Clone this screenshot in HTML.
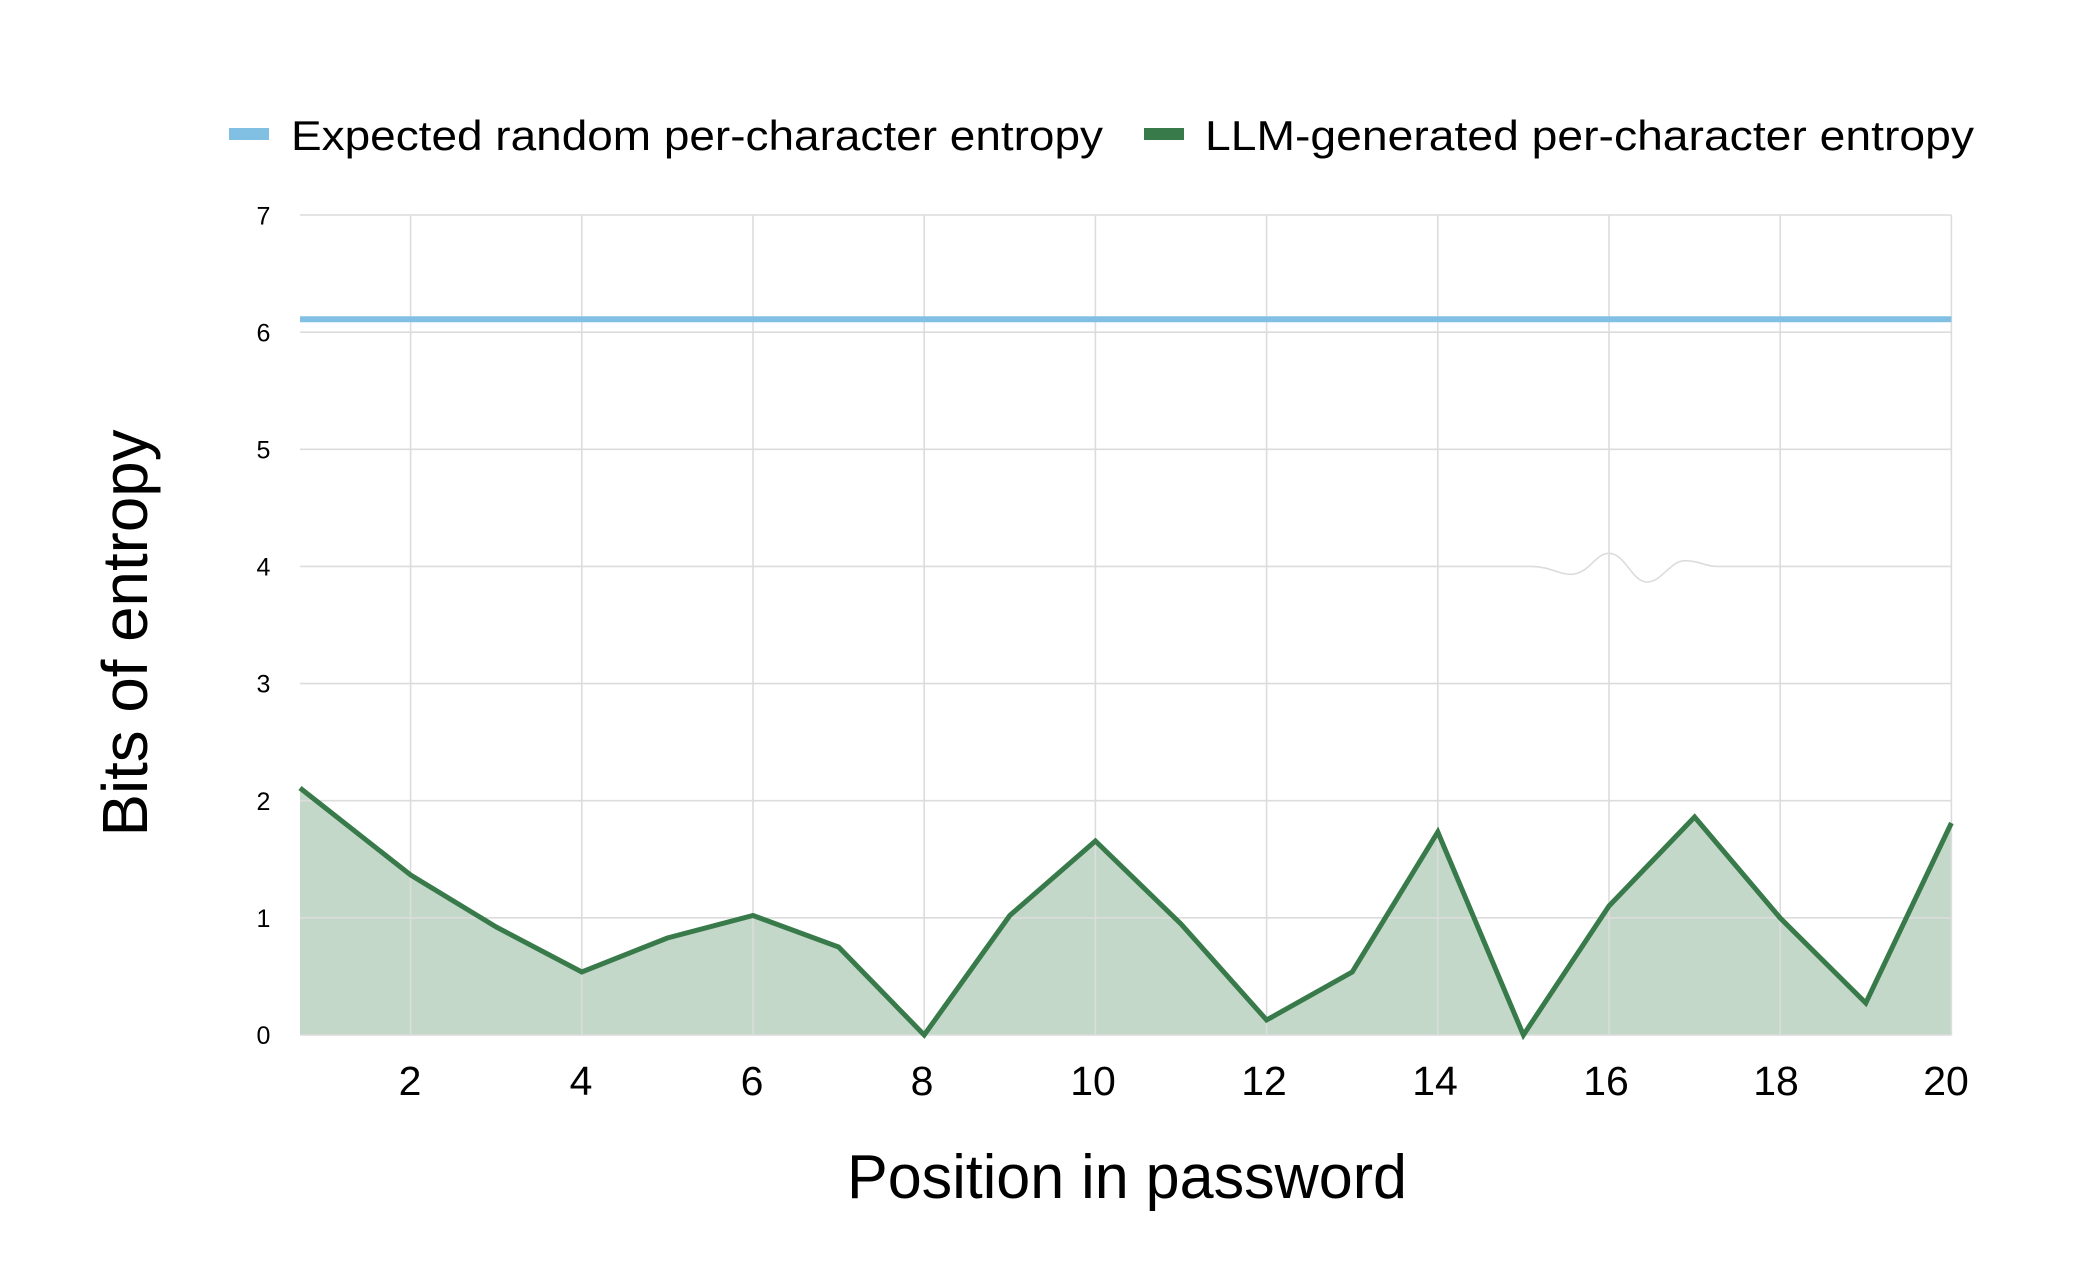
<!DOCTYPE html>
<html>
<head>
<meta charset="utf-8">
<style>
  html, body { margin: 0; padding: 0; background: #ffffff; }
  svg { display: block; }
  text { font-family: "Liberation Sans", "DejaVu Sans", sans-serif; fill: #000; }
</style>
</head>
<body>
<svg width="2080" height="1280" viewBox="0 0 2080 1280" xmlns="http://www.w3.org/2000/svg">
  <rect x="0" y="0" width="2080" height="1280" fill="#ffffff"/>

  <!-- Legend -->
  <rect x="229" y="128" width="40" height="12" fill="#82c0e3"/>
  <text x="291" y="150" font-size="42" textLength="812" lengthAdjust="spacingAndGlyphs">Expected random per-character entropy</text>
  <rect x="1144" y="128" width="40" height="12" fill="#387a4a"/>
  <text x="1205" y="150" font-size="42" textLength="769" lengthAdjust="spacingAndGlyphs">LLM-generated per-character entropy</text>

  <!-- Area fill -->
  <polygon fill="#c3d8c9" points="
    300,1035 300,788 410.6,875 496.2,927 581.8,972 667.4,938 753,915.5 838.6,947 924.2,1035
    1009.8,915.5 1095.4,841 1181,924 1266.6,1020 1352.2,972 1437.8,832 1523.4,1035
    1609,906 1694.6,817 1780.2,918 1865.8,1003 1951.4,823 1951.4,1035"/>

  <!-- Grid -->
  <g stroke="#dcdcdc" stroke-width="1.6" fill="none">
    <line x1="300" y1="1035" x2="1951.4" y2="1035"/>
    <line x1="300" y1="917.86" x2="1951.4" y2="917.86"/>
    <line x1="300" y1="800.71" x2="1951.4" y2="800.71"/>
    <line x1="300" y1="683.57" x2="1951.4" y2="683.57"/>
    <path d="M300,566.43 L1531,566.43 C1550,566.43 1560,575 1572,574.3 C1590,573 1595,553.3 1609,553.3 C1625,553.3 1632,582 1647,582 C1662,582 1670,560.7 1685,560.7 C1700,560.7 1705,566.43 1717,566.43 L1951.4,566.43"/>
    <line x1="300" y1="449.29" x2="1951.4" y2="449.29"/>
    <line x1="300" y1="332.14" x2="1951.4" y2="332.14"/>
    <line x1="300" y1="215" x2="1951.4" y2="215"/>

    <line x1="410.6" y1="215" x2="410.6" y2="1035"/>
    <line x1="581.8" y1="215" x2="581.8" y2="1035"/>
    <line x1="753" y1="215" x2="753" y2="1035"/>
    <line x1="924.2" y1="215" x2="924.2" y2="1035"/>
    <line x1="1095.4" y1="215" x2="1095.4" y2="1035"/>
    <line x1="1266.6" y1="215" x2="1266.6" y2="1035"/>
    <line x1="1437.8" y1="215" x2="1437.8" y2="1035"/>
    <line x1="1609" y1="215" x2="1609" y2="1035"/>
    <line x1="1780.2" y1="215" x2="1780.2" y2="1035"/>
    <line x1="1951.4" y1="215" x2="1951.4" y2="1035"/>
  </g>

  <!-- Expected random line -->
  <line x1="300" y1="319.3" x2="1951.4" y2="319.3" stroke="#82c0e3" stroke-width="6"/>

  <!-- LLM line -->
  <polyline fill="none" stroke="#387a4a" stroke-width="5" stroke-linejoin="miter" stroke-miterlimit="10" points="
    300,788 410.6,875 496.2,927 581.8,972 667.4,938 753,915.5 838.6,947 924.2,1035
    1009.8,915.5 1095.4,841 1181,924 1266.6,1020 1352.2,972 1437.8,832 1523.4,1035
    1609,906 1694.6,817 1780.2,918 1865.8,1003 1951.4,823"/>

  <!-- Y tick labels -->
  <g font-size="25" text-anchor="middle">
    <text x="263.5" y="224.5">7</text>
    <text x="263.5" y="341.5">6</text>
    <text x="263.5" y="458.5">5</text>
    <text x="263.5" y="575.5">4</text>
    <text x="263.5" y="692.5">3</text>
    <text x="263.5" y="810">2</text>
    <text x="263.5" y="927">1</text>
    <text x="263.5" y="1044">0</text>
  </g>

  <!-- X tick labels -->
  <g font-size="41" text-anchor="middle">
    <text x="410" y="1095">2</text>
    <text x="581" y="1095">4</text>
    <text x="752" y="1095">6</text>
    <text x="922" y="1095">8</text>
    <text x="1093" y="1095">10</text>
    <text x="1264" y="1095">12</text>
    <text x="1435" y="1095">14</text>
    <text x="1606" y="1095">16</text>
    <text x="1776" y="1095">18</text>
    <text x="1946" y="1095">20</text>
  </g>

  <!-- Axis titles -->
  <text x="847" y="1198" font-size="62" textLength="560" lengthAdjust="spacingAndGlyphs">Position in password</text>
  <text transform="translate(147,633) rotate(-90)" x="0" y="0" font-size="64" text-anchor="middle" textLength="407" lengthAdjust="spacingAndGlyphs">Bits of entropy</text>
</svg>
</body>
</html>
